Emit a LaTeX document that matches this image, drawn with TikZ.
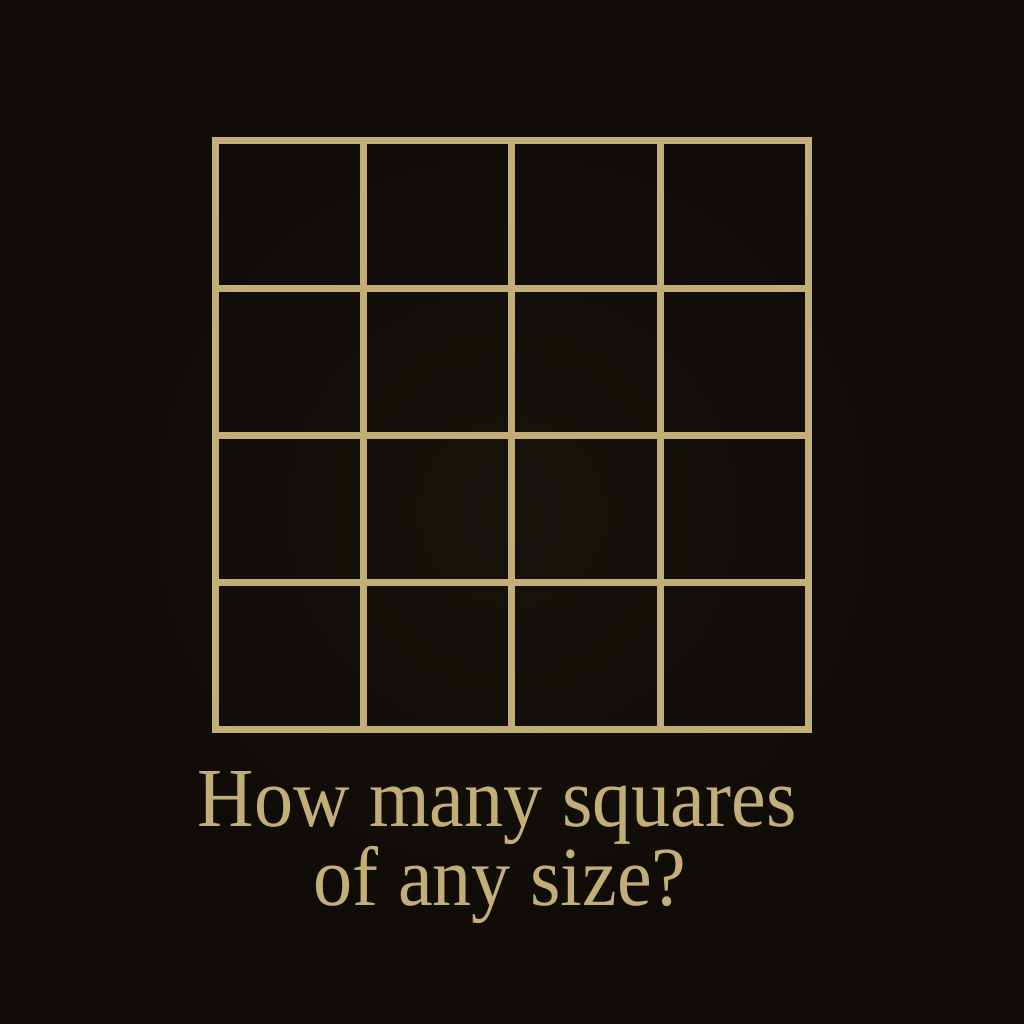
\documentclass[tikz,border=0pt]{standalone}
\usepackage{fontspec}
\setmainfont{Liberation Serif}
\definecolor{bgdark}{HTML}{0E0B07}
\definecolor{bgmid}{HTML}{16120C}
\definecolor{gold}{HTML}{C4AE78}
\begin{document}
\begin{tikzpicture}[x=1pt,y=-1pt,
  gridline/.style={draw=gold,line width=7pt,line cap=rect},
  caption/.style={text=gold,font=\fontsize{84}{84}\selectfont,inner sep=0pt,anchor=base,xscale=0.93}]
\useasboundingbox (0,0) rectangle (1024,1024);
\shade[inner color=bgmid,outer color=bgdark] (0,0) rectangle (1024,1024);
% grid
\foreach \x in {215,363.4,511.8,660.2,808.6}
  \draw[gridline] (\x,141) -- (\x,729);
\foreach \y in {141,288,435,582,729}
  \draw[gridline] (215,\y) -- (808.6,\y);
\node[caption] (l1) at (497,826) {How many squares};
\node[caption] (l2) at (500,905) {of any size?};
\end{tikzpicture}
\end{document}
